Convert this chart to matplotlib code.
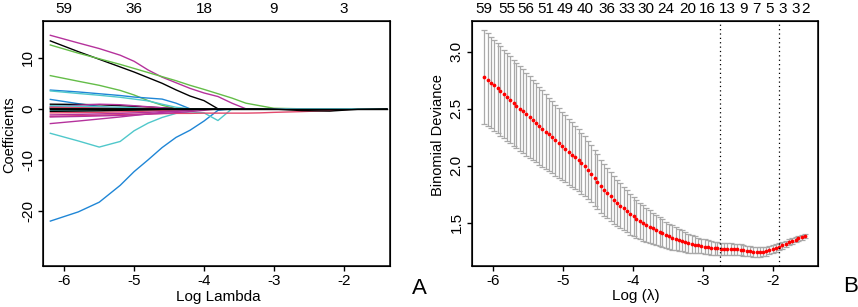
import matplotlib
matplotlib.use('Agg')
import matplotlib.pyplot as plt

plt.rcParams['font.family'] = ['Liberation Sans', 'DejaVu Sans']
plt.rcParams['axes.unicode_minus'] = False

# ---- panel A: lasso coefficient paths (log lambda grid + one list per variable)
path_loglam = [-6.2, -5.8, -5.5, -5.2, -5.0, -4.8, -4.6, -4.4, -4.2, -4.0,
               -3.8, -3.6, -3.4, -3.2, -3.0, -2.6, -2.2, -1.8, -1.38]
mag_1 = [14.4, 12.9, 11.8, 10.5, 9.3, 7.6, 6.2, 5.1, 4.0, 3.1, 2.4, 1.1]
black_1 = [13.3, 11.2, 9.7, 8.2, 7.2, 6.1, 5.0, 3.7, 2.5, 1.6]
green_1 = [12.5, 10.9, 9.8, 8.7, 7.9, 7.1, 6.3, 5.5, 4.6, 3.8, 2.95, 2.1, 1.1, 0.6, 0.1]
green_2 = [6.5, 5.4, 4.6, 3.6, 2.7, 1.6, 0.7]
blue_1 = [3.67, 3.3, 2.95, 2.6, 2.3, 2.1, 1.9, 1.1]
cyan_1 = [3.5, 3.0, 2.65, 2.25, 1.9, 1.55, 0.9, 0.3]
blue_2 = [1.84, 1.0, 0.45]
blue_3 = [-22.0, -20.2, -18.3, -15.0, -12.3, -10.0, -7.6, -5.6, -4.2, -2.4, -0.3]
cyan_2 = [-4.8, -6.3, -7.5, -6.4, -4.3, -2.8, -1.7, -0.9, -0.6, -0.8, -2.3]
mag_2 = [-2.9, -2.4, -2.0, -1.6, -1.3, -1.0, -0.7, -0.5, -0.3]
red_1 = [-1.5, -1.35, -1.25, -1.15, -1.1, -1.0, -0.95, -0.9, -0.9, -0.85,
         -0.85, -0.85, -0.85, -0.8, -0.7, -0.55, -0.35]
black_2 = [0, 0, 0, 0, 0, 0, 0, 0, 0, 0, 0, 0, 0, 0, -0.05, -0.35, -0.45, -0.1]
black_3 = [0.9, 0.85, 0.8, 0.6, 0.5, 0.35, 0.2]
mag_3 = [0.4, 0.7, 0.9, 0.8, 0.6, 0.4, 0.2]
cyan_3 = [-0.3, -0.3, -0.25, -0.2, -0.2, -0.1]
blue_4 = [0.1, 0.1, 0.05]
red_2 = [-0.8, -0.75, -0.7, -0.6, -0.55, -0.45, -0.35, -0.25, -0.1]
mag_4 = [-1.2, -1.1, -1.0, -0.9, -0.8, -0.7, -0.55, -0.45, -0.3]
green_3 = [0.2, 0.15, 0.1, 0.1, 0.05]
black_4 = [-0.5, -0.45, -0.4, -0.3, -0.25, -0.2, -0.1]
red_3 = [0.3, 0.3, 0.25, 0.2, 0.15, 0.1]
mag_5 = [-1.6, -1.5, -1.4, -1.3, -1.2, -1.05, -0.9, -0.75, -0.55, -0.3]
cyan_4 = [0.6, 0.5, 0.4, 0.3, 0.2]
black_5 = [0.0]
top_a_pos = [-6, -5, -4, -3, -2]
top_a_labels = ['59', '36', '18', '9', '3']

# ---- panel B: cross-validated binomial deviance
cv_loglam = [-6.13, -6.08, -6.04, -5.99, -5.94, -5.90, -5.85, -5.81, -5.76, -5.71,
             -5.67, -5.62, -5.57, -5.53, -5.48, -5.43, -5.39, -5.34, -5.30, -5.25,
             -5.20, -5.16, -5.11, -5.06, -5.02, -4.97, -4.92, -4.88, -4.83, -4.78,
             -4.74, -4.69, -4.64, -4.60, -4.55, -4.51, -4.46, -4.41, -4.37, -4.32,
             -4.27, -4.23, -4.18, -4.13, -4.09, -4.04, -3.99, -3.95, -3.90, -3.86,
             -3.81, -3.76, -3.72, -3.67, -3.62, -3.58, -3.53, -3.48, -3.44, -3.39,
             -3.34, -3.30, -3.25, -3.21, -3.16, -3.11, -3.07, -3.02, -2.97, -2.93,
             -2.88, -2.83, -2.79, -2.74, -2.70, -2.65, -2.60, -2.56, -2.51, -2.46,
             -2.42, -2.37, -2.32, -2.28, -2.23, -2.18, -2.14, -2.09, -2.05, -2.00,
             -1.95, -1.91, -1.86, -1.81, -1.77, -1.72, -1.67, -1.63, -1.58, -1.53]
cv_mean = [2.780, 2.755, 2.730, 2.704, 2.679, 2.654, 2.629, 2.603, 2.578, 2.553,
           2.528, 2.502, 2.477, 2.452, 2.427, 2.401, 2.376, 2.351, 2.326, 2.300,
           2.275, 2.250, 2.225, 2.199, 2.174, 2.149, 2.124, 2.098, 2.073, 2.048,
           2.023, 1.997, 1.960, 1.930, 1.890, 1.860, 1.820, 1.790, 1.760, 1.730,
           1.700, 1.675, 1.650, 1.625, 1.600, 1.575, 1.555, 1.535, 1.515, 1.500,
           1.480, 1.465, 1.450, 1.435, 1.420, 1.410, 1.395, 1.380, 1.370, 1.360,
           1.350, 1.340, 1.330, 1.320, 1.310, 1.305, 1.300, 1.295, 1.290, 1.285,
           1.280, 1.275, 1.275, 1.270, 1.270, 1.268, 1.268, 1.267, 1.265, 1.262,
           1.258, 1.253, 1.248, 1.245, 1.243, 1.243, 1.245, 1.250, 1.258, 1.268,
           1.280, 1.290, 1.303, 1.315, 1.328, 1.340, 1.352, 1.362, 1.372, 1.380]
cv_se = [0.410, 0.406, 0.403, 0.400, 0.396, 0.393, 0.389, 0.386, 0.382, 0.379,
         0.375, 0.372, 0.368, 0.365, 0.359, 0.353, 0.347, 0.341, 0.335, 0.329,
         0.323, 0.318, 0.312, 0.306, 0.300, 0.295, 0.289, 0.284, 0.278, 0.273,
         0.267, 0.262, 0.256, 0.251, 0.245, 0.240, 0.234, 0.228, 0.222, 0.216,
         0.210, 0.204, 0.198, 0.192, 0.186, 0.180, 0.174, 0.168, 0.162, 0.157,
         0.151, 0.145, 0.139, 0.133, 0.127, 0.121, 0.115, 0.110, 0.106, 0.101,
         0.097, 0.092, 0.087, 0.083, 0.078, 0.074, 0.069, 0.065, 0.063, 0.062,
         0.060, 0.059, 0.057, 0.056, 0.054, 0.053, 0.051, 0.050, 0.048, 0.047,
         0.046, 0.045, 0.044, 0.042, 0.041, 0.040, 0.039, 0.038, 0.036, 0.035,
         0.033, 0.032, 0.030, 0.028, 0.027, 0.025, 0.023, 0.021, 0.020, 0.018]
top_b_idx = [0, 7, 13, 19, 25, 31, 38, 44, 50, 56, 63, 69, 75, 80, 84, 88, 92, 96, 99]
top_b_labels = ['59', '55', '56', '51', '49', '40', '36', '33', '30', '24',
                '20', '16', '13', '9', '7', '5', '3', '3', '2']
loglam_min = -2.757
loglam_1se = -1.905

COL = {'black': '#000000', 'red': '#E2486C', 'green': '#64BD48',
       'blue': '#1F86D6', 'cyan': '#50C8CB', 'mag': '#B5329C'}
paths = [('mag', mag_1), ('black', black_1), ('green', green_1), ('green', green_2),
         ('blue', blue_1), ('cyan', cyan_1), ('blue', blue_2), ('blue', blue_3),
         ('cyan', cyan_2), ('mag', mag_2), ('red', red_1), ('black', black_3),
         ('mag', mag_3), ('cyan', cyan_3), ('blue', blue_4), ('red', red_2),
         ('mag', mag_4), ('green', green_3), ('black', black_4), ('red', red_3),
         ('mag', mag_5), ('cyan', cyan_4), ('black', black_2), ('black', black_5)]

FS = 11
W, H = 858, 307
fig = plt.figure(figsize=(W / 100, H / 100), dpi=100)
axA = fig.add_axes([43 / W, 1 - 266 / H, 347 / W, 245 / H])
axB = fig.add_axes([471.7 / W, 1 - 266 / H, 346 / W, 245 / H])

for c, v in paths:
    v = v + [0.0] * (len(path_loglam) - len(v))
    axA.plot(path_loglam, v, color=COL[c], lw=1.0)
axA.set_xlim(-6.305, -1.337); axA.set_ylim(-30.8, 17.2)
axA.set_xticks([-6, -5, -4, -3, -2]); axA.set_yticks([10, 0, -10, -20])

axB.errorbar(cv_loglam, cv_mean, yerr=cv_se, fmt='none', ecolor='#A9A9A9',
             elinewidth=0.9, capsize=2.5, capthick=0.9)
axB.plot(cv_loglam, cv_mean, 'o', color='red', ms=2.7, mec='none')
for v in [loglam_min, loglam_1se]:
    axB.axvline(v, color='black', lw=0.9, ls=(0, (1, 2.5)))
axB.set_xlim(-6.31, -1.355); axB.set_ylim(1.12, 3.27)
axB.set_xticks([-6, -5, -4, -3, -2]); axB.set_yticks([1.5, 2.0, 2.5, 3.0])
axB.set_yticklabels(['1.5', '2.0', '2.5', '3.0'])

tops = [(axA, top_a_pos, top_a_labels),
        (axB, [cv_loglam[i] for i in top_b_idx], top_b_labels)]
for ax, pos, labs in tops:
    for s in ax.spines.values():
        s.set_linewidth(1.1)
    ax.tick_params(direction='out', length=3.8, width=1, labelsize=FS, pad=2)
    plt.setp(ax.get_yticklabels(), rotation=90, va='center')
    t = ax.twiny()
    t.set_xlim(ax.get_xlim())
    t.set_xticks(pos); t.set_xticklabels(labs)
    t.tick_params(length=0, labelsize=FS, pad=3.5)

fig.text(218 / W, 1 - 297 / H, 'Log Lambda', ha='center', va='center', fontsize=FS)
fig.text(636 / W, 1 - 296 / H, 'Log (λ)', ha='center', va='center', fontsize=FS)
fig.text(9 / W, 1 - 135 / H, 'Coefficients', rotation=90, ha='center', va='center', fontsize=10.5)
fig.text(438 / W, 1 - 135 / H, 'Binomial Deviance', rotation=90, ha='center', va='center', fontsize=10.5)
fig.text(419 / W, 1 - 288 / H, 'A', ha='center', va='center', fontsize=16)
fig.text(851 / W, 1 - 287 / H, 'B', ha='center', va='center', fontsize=16)

fig.savefig('out.png', dpi=100)
